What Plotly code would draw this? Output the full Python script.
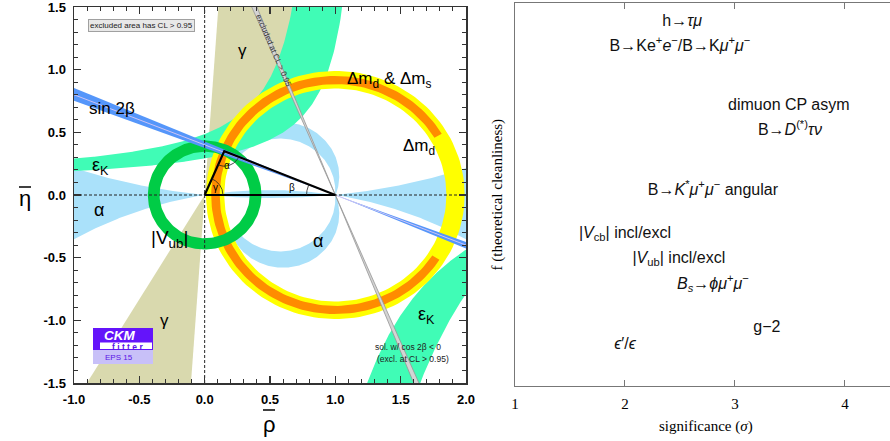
import numpy as np
import plotly.graph_objects as go

W, H = 890, 441

# ---------------- left panel: CKM constraints ----------------
APEX = [0.15, 0.35]
GAMMA_RANGE = [59.0, 86.0]          # deg, wedge from origin (and its mirror)
BETA_RANGE = [20.6, 23.1]           # deg, sin2beta band through (1,0)
BETA_MID = 21.8
BETA2_RANGE = [66.9, 68.2]          # deg, excluded cos2beta<0 solution
DMD_RADII = [0.85, 0.99]            # Delta m_d ring around (1,0)
DMDS_RADII = [0.885, 0.95]          # Delta m_d & Delta m_s ring
DMDS_SPAN = [31.0, 327.0]           # deg
VUB_RADII = [0.345, 0.435]          # |Vub| ring around (0,0)
ALPHA_WEDGE = [6.0, 9.4]            # deg, upper / lower thresholds
ALPHA_SLIVER = [171.0, 174.5]       # deg, upper / lower thresholds
ALPHA_ARC_OUT = [0.60, 0.15, 0.43]  # cx, |cy|, r
ALPHA_ARC_IN = [0.58, 0.03, 0.42]
ALPHA_ARC_END = [157.0, 143.0]      # deg below horizontal, outer / inner
EPSK_UL = [[0.11, 0.346, 0.92], [0.065, 0.282, 1.25]]   # eta0, k, rho0
EPSK_LR = [[0.611, 1.57, 0.5], [1.546, 3.5, 0.5]]

RHO_TICKS = [-1.0, -0.5, 0.0, 0.5, 1.0, 1.5, 2.0]
RHO_TICKTEXT = ["-1.0", "-0.5", "0.0", "0.5", "1.0", "1.5", "2.0"]
ETA_TICKS = [-1.5, -1.0, -0.5, 0.0, 0.5, 1.0, 1.5]
ETA_TICKTEXT = ["-1.5", "-1.0", "-0.5", "0.0", "0.5", "1.0", "1.5"]

# ---------------- right panel ----------------
ANOMALIES = [
    "h→<i>τμ</i>",
    "B→Ke<sup>+</sup><i>e</i><sup>−</sup>/B→K<i>μ</i><sup>+</sup><i>μ</i><sup>−</sup>",
    "dimuon CP asym",
    "B→<i>D</i><sup>(*)</sup><i>τν</i>",
    "B→<i>K</i><sup>*</sup><i>μ</i><sup>+</sup><i>μ</i><sup>−</sup> angular",
    "|<i>V</i><sub>cb</sub>| incl/excl",
    "|<i>V</i><sub>ub</sub>| incl/excl",
    "<i>B<sub>s</sub></i>→<i>ϕμ</i><sup>+</sup><i>μ</i><sup>−</sup>",
    "g−2",
    "<i>ϵ</i>′/<i>ϵ</i>",
]
SIGNIFICANCE = [2.52, 2.50, 3.49, 3.50, 2.80, 2.00, 2.49, 2.80, 3.29, 2.00]
CLEANLINESS = [0.950, 0.885, 0.731, 0.666, 0.509, 0.397, 0.332, 0.264, 0.151, 0.107]
SIG_TICKS = [1, 2, 3, 4]

C_GAMMA = "rgb(217,217,174)"
C_EPSK = "rgb(64,252,182)"
C_ALPHA = "rgb(170,225,250)"
C_DMD = "rgb(255,255,0)"
C_DMDS = "rgb(255,140,0)"
C_VUB = "rgb(0,204,70)"
C_SIN2B = "rgb(85,150,250)"
C_GRAY = "rgb(212,212,212)"


def arc(cx, cy, r, a0, a1, n=160):
    t = np.radians(np.linspace(a0, a1, n))
    return cx + r * np.cos(t), cy + r * np.sin(t)


def sector(cx, cy, r1, r2, a0, a1):
    xo, yo = arc(cx, cy, r2, a0, a1)
    xi, yi = arc(cx, cy, r1, a1, a0)
    return np.concatenate([xo, xi]), np.concatenate([yo, yi])


def poly(x, y, color, line_color=None, lw=0):
    return go.Scatter(x=list(x), y=list(y), mode="lines", fill="toself", fillcolor=color,
                      line=dict(width=lw, color=line_color or color), hoverinfo="skip",
                      showlegend=False, xaxis="x", yaxis="y")


def line(x, y, color, width, dash=None):
    return go.Scatter(x=list(x), y=list(y), mode="lines",
                      line=dict(width=width, color=color, dash=dash), hoverinfo="skip",
                      showlegend=False, xaxis="x", yaxis="y")


fig = go.Figure()
L = 4.0

# gamma wedges
for off in (0, 180):
    ax, ay = arc(0, 0, L, GAMMA_RANGE[0] + off, GAMMA_RANGE[1] + off, 20)
    fig.add_trace(poly(np.r_[0, ax, 0], np.r_[0, ay, 0], C_GAMMA))


# alpha region
def alpha_edge(rho, th_deg, sign, outer=True):
    th = np.radians(th_deg)
    c = 0.5 / np.tan(th)
    R = 0.5 / np.sin(th)
    s = np.sqrt(np.maximum(R ** 2 - (rho - 0.5) ** 2, 0))
    return sign * ((c - s) if outer else (c + s))


for r0, r1 in ((0.0, -1.2), (1.0, 2.2)):
    rr = np.linspace(r0, r1, 80)
    up = alpha_edge(rr, ALPHA_WEDGE[0], 1)
    lo = alpha_edge(rr[::-1], ALPHA_WEDGE[1], -1)
    fig.add_trace(poly(np.r_[rr, rr[::-1]], np.r_[up, lo], C_ALPHA))
rr = np.linspace(0, 1, 100)
fig.add_trace(poly(np.r_[rr, rr[::-1]],
                   np.r_[alpha_edge(rr, ALPHA_SLIVER[0], 1, False),
                         alpha_edge(rr[::-1], ALPHA_SLIVER[1], -1, False)], C_ALPHA))
for sgn in (-1, 1):
    cxo, cyo, ro = ALPHA_ARC_OUT
    cxi, cyi, ri = ALPHA_ARC_IN
    aBo = np.degrees(np.arctan2(cyo, 1 - cxo))
    aBi = np.degrees(np.arctan2(cyi, 1 - cxi))
    xo, yo = arc(cxo, -cyo, ro, aBo, -ALPHA_ARC_END[0])
    xi, yi = arc(cxi, -cyi, ri, -ALPHA_ARC_END[1], aBi)
    fig.add_trace(poly(np.r_[xo, xi], sgn * np.r_[yo, yi], C_ALPHA))

# epsilon_K
(e0h, kh, r0h), (e0l, kl, r0l) = EPSK_UL
top = 1.7
end_h = r0h - kh / (top - e0h)
end_l = r0l - kl / (top - e0l)
rh = np.linspace(-1.2, end_h, 300)
rl = np.linspace(end_l, -1.2, 300)
fig.add_trace(poly(np.r_[rh, rl], np.r_[e0h + kh / (r0h - rh), e0l + kl / (r0l - rl)], C_EPSK))
(e0h, kh, r0h), (e0l, kl, r0l) = EPSK_LR
bot = -1.7
st_h = r0h + kh / (e0h - bot)
st_l = r0l + kl / (e0l - bot)
rh = np.linspace(st_h, 2.2, 300)
rl = np.linspace(2.2, st_l, 300)
fig.add_trace(poly(np.r_[rh, rl], np.r_[e0h - kh / (rh - r0h), e0l - kl / (rl - r0l)], C_EPSK))

# Delta m rings
fig.add_trace(poly(*sector(1, 0, DMD_RADII[0], DMD_RADII[1], 0, 360), C_DMD))
fig.add_trace(poly(*sector(1, 0, DMDS_RADII[0], DMDS_RADII[1], DMDS_SPAN[0], DMDS_SPAN[1]), C_DMDS))
# |Vub| ring
fig.add_trace(poly(*sector(0, 0, VUB_RADII[0], VUB_RADII[1], 0, 360), C_VUB))


# sin 2beta band and excluded second solution
def band(rng, color, lc=None, lw=0):
    b1, b2 = np.radians(rng)
    fig.add_trace(poly([1, 1 - L * np.cos(b1), 1 - L * np.cos(b2), 1],
                       [0, L * np.sin(b1), L * np.sin(b2), 0], color, lc, lw))
    fig.add_trace(poly([1, 1 + L * np.cos(b1), 1 + L * np.cos(b2), 1],
                       [0, -L * np.sin(b1), -L * np.sin(b2), 0], color, lc, lw))


band(BETA_RANGE, C_SIN2B)
bm = np.radians(BETA_MID)
fig.add_trace(line([1 - L * np.cos(bm), 1 + L * np.cos(bm)], [L * np.sin(bm), -L * np.sin(bm)],
                   "rgb(205,195,245)", 1))
band(BETA2_RANGE, C_GRAY, "rgb(150,150,150)", 0.8)

# dashed axes
fig.add_trace(line([0, 0], [-1.5, 1.5], "#222", 1, "3px,2px"))
fig.add_trace(line([-1, 2], [0, 0], "#222", 1, "3px,2px"))

# unitarity triangle
fig.add_trace(line([0, 1, APEX[0], 0], [0, 0, APEX[1], 0], "black", 2.2))
aA = np.degrees(np.arctan2(-APEX[1], -APEX[0]))
aB = np.degrees(np.arctan2(-APEX[1], 1 - APEX[0]))
fig.add_trace(line(*arc(APEX[0], APEX[1], 0.12, aA, aB, 40), "#222", 0.8))
fig.add_trace(line(*arc(0, 0, 0.14, 0, np.degrees(np.arctan2(APEX[1], APEX[0])), 40), "#222", 0.8))
fig.add_trace(line(*arc(1, 0, 0.22, 180 + aB, 180, 40), "#222", 0.8))

# right panel text points
fig.add_trace(go.Scatter(x=SIGNIFICANCE, y=CLEANLINESS, text=ANOMALIES, mode="text",
                         textposition="middle center",
                         textfont=dict(family="Liberation Sans", size=16, color="#111"),
                         xaxis="x2", yaxis="y2", showlegend=False, hoverinfo="skip"))

FS = "Liberation Sans"
ann = []


def lab(x, y, t, size=17, **kw):
    d = dict(x=x, y=y, xref="x", yref="y", text=t, showarrow=False,
             font=dict(family=FS, size=size, color="black"))
    d.update(kw)
    ann.append(d)


lab(-0.71, 0.69, "sin 2β", 17)
lab(-0.80, 0.225, "ε<sub>K</sub>", 18)
lab(-0.81, -0.12, "α", 18)
lab(-0.27, -0.355, "|V<sub>ub</sub>|", 19)
lab(-0.31, -1.0, "γ", 17)
lab(0.29, 1.15, "γ", 17)
lab(1.41, 0.92, "Δm<sub>d</sub> &amp; Δm<sub>s</sub>", 17)
lab(1.64, 0.38, "Δm<sub>d</sub>", 17)
lab(0.865, -0.37, "α", 18)
lab(1.70, -0.965, "ε<sub>K</sub>", 18)
lab(1.555, -1.21, "sol. w/ cos 2β &lt; 0", 8.5, font=dict(family=FS, size=8.5, color="#222"))
lab(1.595, -1.305, "(excl. at CL &gt; 0.95)", 8.5, font=dict(family=FS, size=8.5, color="#222"))
lab(0.17, 0.235, "α", 10)
lab(0.085, 0.06, "γ", 10)
lab(0.665, 0.06, "β", 10)
lab(0.525, 1.15, "excluded at CL &gt; 0.95", 8, textangle=66.7,
    font=dict(family=FS, size=8, color="#333"))
lab(-0.486, 1.353, "excluded area has CL &gt; 0.95", 8, bgcolor="rgb(232,232,232)",
    bordercolor="rgb(160,160,160)", borderwidth=1, borderpad=1,
    font=dict(family=FS, size=8, color="#222"))


def P(px, py):
    return px / W, 1 - py / H


def pann(px, py, t, size, family=FS, color="black", **kw):
    x, y = P(px, py)
    d = dict(x=x, y=y, xref="paper", yref="paper", text=t, showarrow=False,
             font=dict(family=family, size=size, color=color), xanchor="center", yanchor="middle")
    d.update(kw)
    ann.append(d)


pann(25, 198, "η", 22)
pann(269, 424, "ρ", 22)
# CKMfitter logo
pann(119, 335, "<b><i>CKM</i></b>", 13.5, color="white")
pann(127, 346.5, "<b>f i t t e r</b>", 8.5, color="rgb(90,20,230)")
pann(119, 357.5, "EPS 15", 8, color="rgb(90,20,230)")
# right panel titles
pann(497, 194.5, "f (theoretical cleanliness)", 15, family="Liberation Serif", textangle=-90)
pann(706, 426, "significance (<i>σ</i>)", 15, family="Liberation Serif")

shapes = []


def prect(x0, y0, x1, y1, color, layer="above"):
    a0, b0 = P(x0, y0)
    a1, b1 = P(x1, y1)
    shapes.append(dict(type="rect", xref="paper", yref="paper", x0=a0, y0=b1, x1=a1, y1=b0,
                       fillcolor=color, line=dict(width=0), layer=layer))


def pline(x0, y0, x1, y1, color="black", width=1.5):
    a0, b0 = P(x0, y0)
    a1, b1 = P(x1, y1)
    shapes.append(dict(type="line", xref="paper", yref="paper", x0=a0, y0=b0, x1=a1, y1=b1,
                       line=dict(color=color, width=width)))


prect(93, 328, 153, 350, "rgb(100,20,250)")
prect(100, 342.5, 152, 349, "white")
prect(93, 350, 153, 364, "rgb(200,192,248)")
# overbars of the axis symbols
pline(19, 187, 31, 187)
pline(263, 410, 275, 410)

axfont = dict(family=FS, size=13, color="black", weight="bold")
common = dict(showgrid=False, zeroline=False, showline=True, linecolor="#333", linewidth=1.5,
              mirror="allticks", ticks="inside", ticklen=7, tickwidth=1.2, tickcolor="#333",
              tickfont=axfont, ticklabelstandoff=4, automargin=False, ticklabeloverflow="allow",
              minor=dict(ticks="inside", ticklen=4, tickwidth=1, tickcolor="#333", dtick=0.1, tick0=0))

fig.update_layout(
    width=W, height=H, autosize=False,
    margin=dict(l=0, r=0, t=0, b=0, pad=0, autoexpand=False),
    paper_bgcolor="white", plot_bgcolor="white", showlegend=False,
    xaxis=dict(domain=[74 / W, 466 / W], range=[-1, 2], tickvals=RHO_TICKS,
               ticktext=RHO_TICKTEXT, anchor="y", **common),
    yaxis=dict(domain=[58 / H, 434 / H], range=[-1.5, 1.5], tickvals=ETA_TICKS,
               ticktext=ETA_TICKTEXT, anchor="x", **common),
    xaxis2=dict(domain=[515 / W, 1.0], range=[1, 4.41], tickvals=SIG_TICKS, anchor="y2",
                showgrid=False, zeroline=False, showline=True, linecolor="#777", linewidth=1.2,
                mirror="ticks", ticks="inside", ticklen=6, tickcolor="#777", ticklabelstandoff=4,
                automargin=False, ticklabeloverflow="allow",
                tickfont=dict(family="Liberation Serif", size=15, color="black")),
    yaxis2=dict(domain=[55 / H, 438 / H], range=[0, 1], anchor="x2", showgrid=False,
                zeroline=False, showline=True, linecolor="#777", linewidth=1.2,
                ticks="", showticklabels=False, automargin=False),
    annotations=ann,
    shapes=shapes,
)

fig.write_html("out.html", config={"displayModeBar": False, "staticPlot": True},
               post_script="document.body.style.margin='0px';")
